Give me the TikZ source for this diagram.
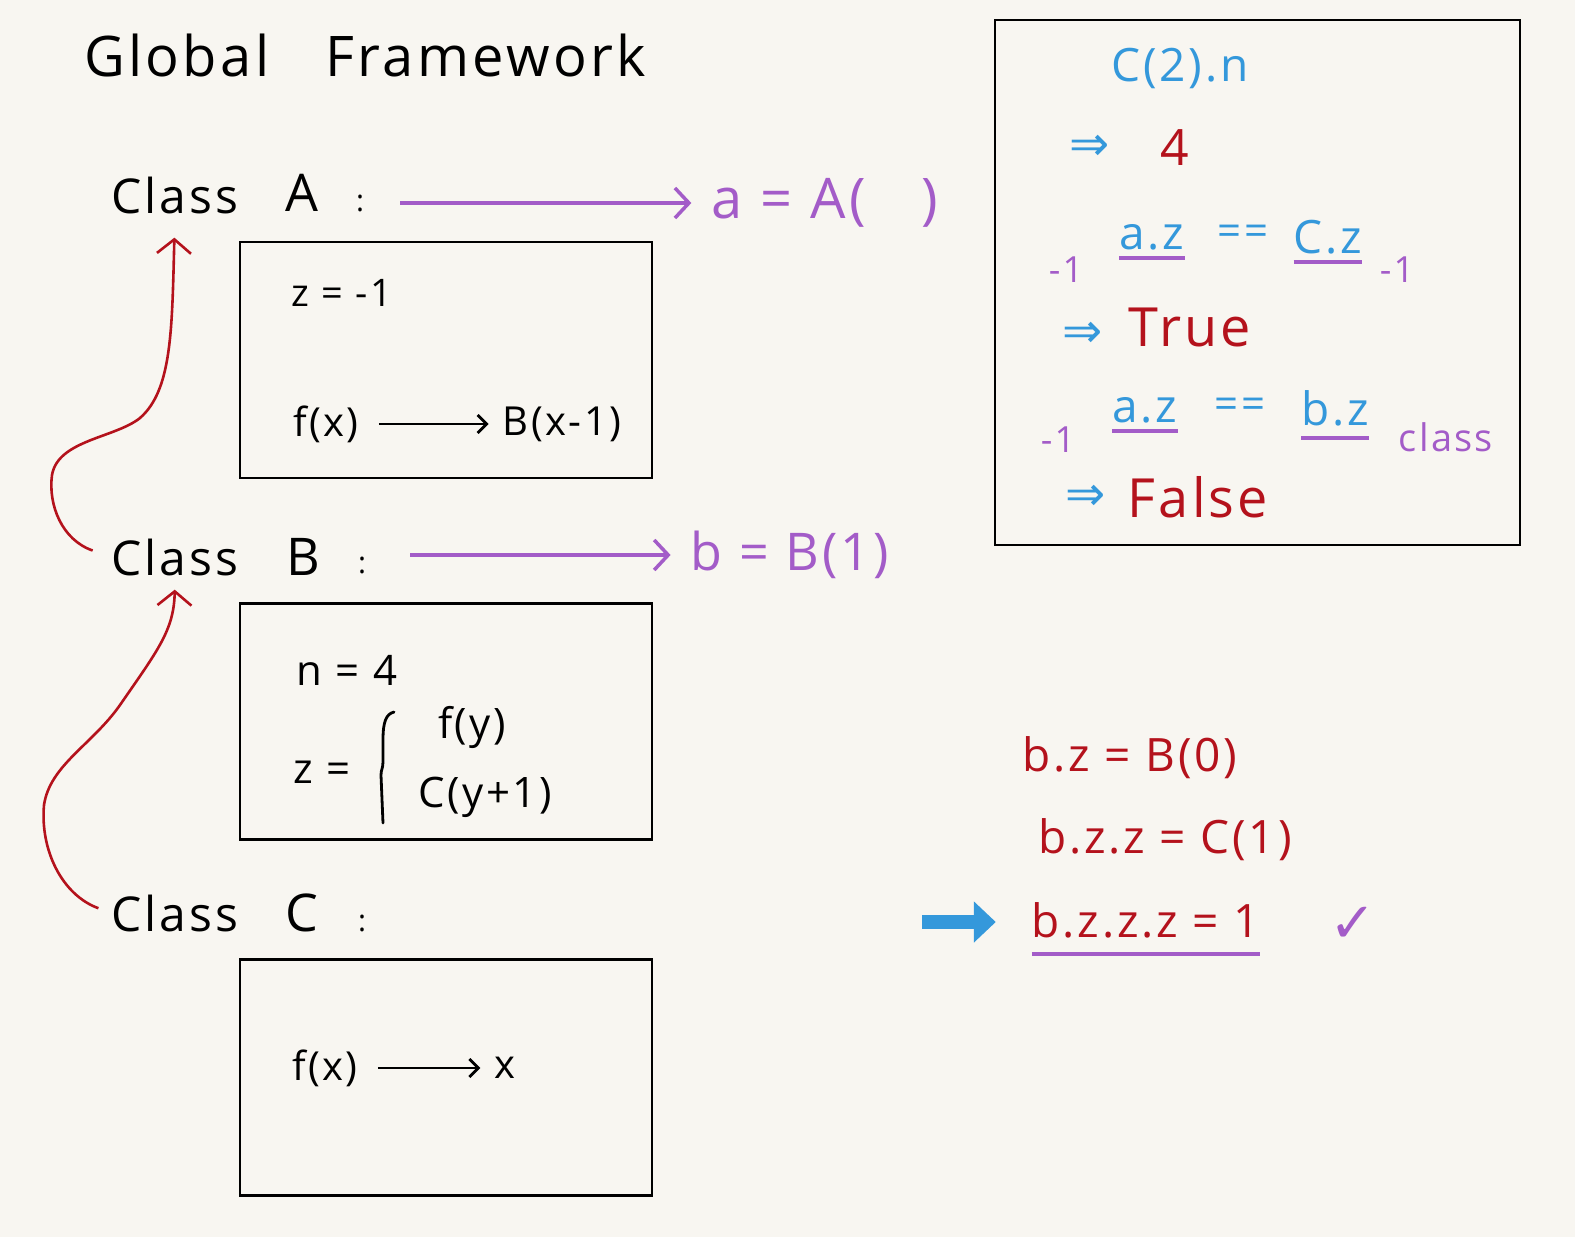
\documentclass[tikz,border=0pt]{standalone}
\usepackage{fontspec}
\usepackage{amsmath}
\usepackage{xcolor}
\setmainfont[LetterSpace=6]{Open Sans}
\newfontfamily\symfont{DejaVu Sans}
\usetikzlibrary{arrows.meta,positioning}

\definecolor{paper}{RGB}{248,246,241}
\definecolor{inkpurple}{RGB}{163,92,200}
\definecolor{inkblue}{RGB}{52,152,219}
\definecolor{inkred}{RGB}{180,18,28}

\tikzset{
  hand/.style={inner sep=0pt, font=\fontsize{#1}{#1}\selectfont},
  hand/.default=40,
  implies/.style={inner sep=0pt, text=inkblue, font=\symfont\fontsize{48}{48}\selectfont},
  classbox/.style={draw, line width=2.5pt, minimum width=412pt, minimum height=236pt, inner sep=0pt},
  blackarrow/.style={line width=2.8pt, -{Straight Barb[length=9pt,width=18pt]}, shorten <=20pt, shorten >=14pt},
  purplearrow/.style={inkpurple, line width=3.5pt, -{Straight Barb[length=14pt,width=30pt]}, shorten >=20pt},
  redarrow/.style={inkred, line width=2.6pt, -{Straight Barb[length=14pt,width=34pt]}},
  purpleline/.style={inkpurple, line width=3.5pt}
}

\begin{document}
\begin{tikzpicture}[x=1pt, y=-1pt]
  % Page
  \useasboundingbox (0,0) rectangle (1575,1237);
  \fill[paper] (0,0) rectangle (1575,1237);

  % Title
  \node[hand=56] (title) at (365,55) {Global\quad Framework};

  % Class headers
  \node[hand=48] (clsA) at (175,195) {Class};
  \node[hand=52] (nameA) at (302,193) {A};
  \node[hand=30] (colA) at (360,203) {:};
  \node[hand=48] (clsB) at (175,557) {Class};
  \node[hand=52] (nameB) at (303,557) {B};
  \node[hand=30] (colB) at (362,565) {:};
  \node[hand=48] (clsC) at (175,913) {Class};
  \node[hand=52] (nameC) at (302,913) {C};
  \node[hand=30] (colC) at (362,923) {:};

  % Class bodies
  \node[classbox] (boxA) at (446,360) {};
  \node[classbox] (boxB) at (446,721.5) {};
  \node[classbox] (boxC) at (446,1077.5) {};

  % Body of A
  \node[hand=38] (zA) at (342,293) {z = -1};
  \node[hand=40] (fA) at (326,424) {f(x)};
  \node[hand=40] (callA) at (562,424) {B(x-1)};
  \draw[blackarrow] (fA) -- (callA);

  % Body of B
  \node[hand=42] (nB) at (347,670) {n = 4};
  \node[hand=42] (zB) at (322,772) {z =};
  \draw[line width=2.8pt, line cap=round] (394,712) .. controls (386,714) and (383,722) .. (383,740) -- (383,762)
    .. controls (383,768) and (381,770) .. (381,775) -- (383,823);
  \node[hand=42] (fB) at (472,727) {f(y)};
  \node[hand=42] (cB) at (485,797) {C(y+1)};

  % Body of C
  \node[hand=40] (fC) at (325,1068) {f(x)};
  \node[hand=40] (xC) at (505,1068) {x};
  \draw[blackarrow] (fC) -- (xC);

  % Objects
  \node[hand=56, text=inkpurple] (objA) at (825,203) {a = A(\quad)};
  \node[hand=52, text=inkpurple] (objB) at (790,555) {b = B(1)};
  \draw[purplearrow] ([xshift=36pt]colA.east |- objA.west) -- (objA.west);
  \draw[purplearrow] ([xshift=44pt]colB.east |- objB.west) -- (objB.west);

  % Inheritance
  \draw[redarrow, shorten <=20pt, shorten >=24pt] (clsB.west) .. controls (62,540) and (48,505) .. (52,475)
    .. controls (58,440) and (115,438) .. (140,418) .. controls (172,390) and (172,330) .. (clsA.south);
  \draw[redarrow, shorten <=14pt, shorten >=14pt] (clsC.west) .. controls (62,895) and (40,850) .. (44,805)
    .. controls (50,765) and (92,745) .. (120,705) .. controls (158,650) and (174,630) .. (clsB.south);

  % Evaluation box
  \node[draw, line width=2.5pt, minimum width=525pt, minimum height=525pt] (evalbox) at (1257.5,282.5) {};
  \node[hand=46, text=inkblue] (q1) at (1180,68) {C(2).n};
  \node[implies] (imp1) at (1090,148) {⇒};
  \node[hand=50, text=inkred] (ans1) at (1175,148) {4};
  \node[hand=46, text=inkblue] (az1) at (1152,237) {a.z};
  \node[hand=42, text=inkblue] (eq1) at (1243,235) {==};
  \node[hand=46, text=inkblue] (cz1) at (1328,237) {C.z};
  \draw[purpleline] ([yshift=-8pt]az1.south west) -- ([yshift=-8pt]az1.south east);
  \draw[purpleline] ([yshift=-8pt]cz1.south west) -- ([yshift=-8pt]cz1.south east);
  \node[hand=36, text=inkpurple] (m1) at (1066,270) {-1};
  \node[hand=36, text=inkpurple] (m2) at (1397,270) {-1};
  \node[implies] (imp2) at (1083,335) {⇒};
  \node[hand=54, text=inkred] (ans2) at (1190,327) {True};
  \node[hand=46, text=inkblue] (az2) at (1145,410) {a.z};
  \node[hand=42, text=inkblue] (eq2) at (1240,408) {==};
  \node[hand=46, text=inkblue] (bz2) at (1335,408) {b.z};
  \draw[purpleline] ([yshift=-8pt]az2.south west) -- ([yshift=-8pt]az2.south east);
  \draw[purpleline] ([yshift=-12pt]bz2.south west) -- ([yshift=-12pt]bz2.south east);
  \node[hand=36, text=inkpurple] (m3) at (1058,440) {-1};
  \node[hand=38, text=inkpurple] (cls) at (1446,437) {class};
  \node[implies] (imp3) at (1086,498) {⇒};
  \node[hand=54, text=inkred] (ans3) at (1198,497) {False};

  % Chain of results
  \node[hand=46, text=inkred] (res1) at (1130,758) {b.z = B(0)};
  \node[hand=46, text=inkred] (res2) at (1165,840) {b.z.z = C(1)};
  \node[hand=46, text=inkred] (res3) at (1146,920) {b.z.z.z = 1};
  \draw[purpleline] ([yshift=-16pt]res3.south west) -- ([yshift=-16pt]res3.south east);
  \coordinate (pointer) at (922,922);
  \draw[inkblue, line width=14pt, -{Triangle[length=22pt,width=40pt]}, shorten >=36pt] (pointer) -- (res3.west |- pointer);
  \node[text=inkpurple, inner sep=0pt, font=\symfont\fontsize{56}{56}\selectfont] (tick) at (1353,925) {✓};
\end{tikzpicture}
\end{document}
